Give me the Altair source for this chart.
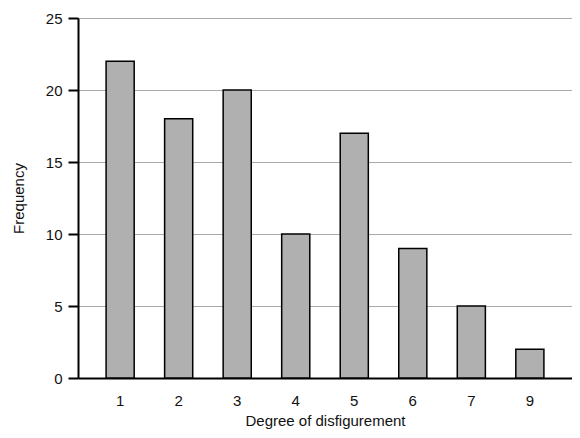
import altair as alt
import pandas as pd

categories = ["1", "2", "3", "4", "5", "6", "7", "9"]
frequencies = [22, 18, 20, 10, 17, 9, 5, 2]
y_ticks = [0, 5, 10, 15, 20, 25]

df = pd.DataFrame({"degree": categories, "freq": frequencies})

font = "Liberation Sans"

bars = alt.Chart(df).mark_bar(
    color="#b0b0b0", stroke="black", strokeWidth=1.5
).encode(
    x=alt.X(
        "degree:N",
        sort=categories,
        title="Degree of disfigurement",
        scale=alt.Scale(paddingInner=0.52, paddingOuter=0.48),
        axis=alt.Axis(
            labelAngle=0, ticks=False, labelPadding=15, labelFontSize=15,
            labelColor="#111", titleFontSize=15, titleFontWeight="normal",
            titleColor="#111", titlePadding=5, domainColor="black",
            domainWidth=2, labelFont=font, titleFont=font,
        ),
    ),
    y=alt.Y(
        "freq:Q",
        title="Frequency",
        scale=alt.Scale(domain=[0, 25], nice=False),
        axis=alt.Axis(
            values=y_ticks, tickSize=10, tickColor="black", tickWidth=2,
            labelPadding=6, labelFontSize=15, labelColor="#111",
            titleFontSize=15, titleFontWeight="normal", titleColor="#111",
            titlePadding=19, domainColor="black", domainWidth=2,
            grid=True, gridColor="#aaaaaa", gridWidth=1,
            labelFont=font, titleFont=font,
        ),
    ),
)

chart = bars.properties(
    width=494,
    height=360,
    autosize=alt.AutoSizeParams(type="none"),
    padding={"left": 70, "top": 10, "right": 0, "bottom": 52},
).configure_view(stroke=None).configure(background="white")

chart.save("out.html", embed_options={"renderer": "svg", "actions": False})
